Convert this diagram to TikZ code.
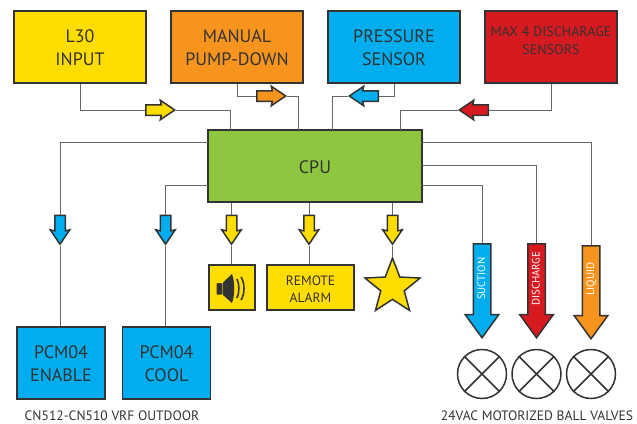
\documentclass[tikz,border=0pt]{standalone}
\usepackage{fontspec}
\setmainfont{PT Sans}
\usetikzlibrary{shapes.arrows,shapes.geometric}
\definecolor{ink}{HTML}{333333}
\definecolor{wirecol}{HTML}{666666}
\definecolor{yel}{HTML}{FFDD00}
\definecolor{ora}{HTML}{F7941E}
\definecolor{blu}{HTML}{00AEEF}
\definecolor{rd}{HTML}{D71920}
\definecolor{grn}{HTML}{8DC63F}

\begin{document}
\begin{tikzpicture}[x=1pt,y=-1pt,
					node distance=157pt,
					text=ink,
					box/.style={rectangle,draw=ink,line width=1.8pt,align=center,
						font=\fontsize{18}{23}\selectfont},
					top box/.style={box,minimum width=132pt,minimum height=72pt,text height=37.5pt},
					pcm box/.style={box,minimum width=88pt,minimum height=72pt,text height=36.5pt},
					alarm box/.style={box,minimum height=45pt,text height=29.5pt,font=\fontsize{13.5}{17}\selectfont},
					wire/.style={draw=wirecol,line width=1pt},
					small arrow/.style={single arrow,draw=ink,line width=1.5pt,minimum height=29pt,
						minimum width=18pt,single arrow head extend=4.5pt,inner sep=4.5pt,anchor=tail,
						single arrow tip angle=68,single arrow head indent=1pt},
					point left/.style={shape border rotate=180},
					point down/.style={shape border rotate=270},
					big arrow/.style={single arrow,draw=ink,line width=1.5pt,rotate=90,shape border rotate=180,
						minimum height=94pt,minimum width=32pt,single arrow head extend=8pt,inner xsep=0pt,inner ysep=3pt,
						text height=8pt,text depth=2pt,anchor=tail,
						single arrow tip angle=72,text=white,font=\fontsize{10.8}{12}\selectfont},
					valve/.style={circle,draw=ink,line width=1.5pt,minimum size=49pt,inner sep=0pt}]

  \useasboundingbox (0,0) rectangle (637,423);

  % inputs
  \node[top box,fill=yel] (l30) at (80,47) {L30\\INPUT};
  \node[top box,fill=ora] (manual) [right of=l30] {MANUAL\\PUMP-DOWN};
  \node[top box,fill=blu] (pressure) [right of=manual] {PRESSURE\\SENSOR};
  \node[box,minimum width=132pt,minimum height=72pt,fill=rd,font=\fontsize{14}{18}\selectfont,text depth=13.5pt] (discharge) [right of=pressure] {MAX 4 DISCHARAGE\\SENSORS};

  \node[box,fill=grn,minimum width=214pt,minimum height=72pt,text height=14.5pt] (cpu) at (315,166) {CPU};

  % outputs
  \node[pcm box,fill=blu] (enable) at (61,363) {PCM04\\ENABLE};
  \node[pcm box,fill=blu] (cool) at (166.5,363) {PCM04\\COOL};
  \node[box,minimum height=45pt,fill=yel,minimum width=46pt] (speaker) at (232,287.5) {};
  \node[alarm box,fill=yel,minimum width=87pt] (remote) at (310.5,287.5) {REMOTE\\ALARM};
  \node[star,star points=5,star point ratio=2.35,draw=ink,fill=yel,line width=1.5pt,minimum size=58pt,inner sep=0pt] (lamp) at (392.5,287) {};

  \node[valve] (valve1) at (482,374) {};
  \node[valve] (valve2) at (536.5,374) {};
  \node[valve] (valve3) at (591,374) {};
  \foreach \v in {valve1,valve2,valve3}
    \draw[draw=ink,line width=1.5pt] (\v.45) -- (\v.225) (\v.135) -- (\v.315);

  % arrows on the wires
  \node[small arrow,fill=yel] (l30arrow) at (145,110) {};
  \node[small arrow,fill=ora] (manualarrow) at (256,96) {};
  \node[small arrow,point left,fill=blu] (pressurearrow) at (379,96) {};
  \node[small arrow,point left,fill=rd] (dischargearrow) at (489,110) {};
  \node[small arrow,point down,fill=blu] (enablearrow) at (60,214.5) {};
  \node[small arrow,point down,fill=blu] (coolarrow) at (165.5,214.5) {};
  \node[small arrow,point down,fill=yel] (speakerarrow) at (231.5,214.5) {};
  \node[small arrow,point down,fill=yel] (remotearrow) at (309,214.5) {};
  \node[small arrow,point down,fill=yel] (lamparrow) at (392.5,214.5) {};
  \node[big arrow,fill=blu] (suctionflow) at (482,243) {\hspace*{12pt}SUCTION};
  \node[big arrow,fill=rd] (dischargeflow) at (536.5,243) {\hspace*{12pt}DISCHARGE};
  \node[big arrow,fill=ora,minimum height=93pt] (liquidflow) at (591,245) {\hspace*{14pt}LIQUID};

  \coordinate (cpuin1) at (230,130);
  \coordinate (cpuin2) at (298.5,130);
  \coordinate (cpuin3) at (332,130);
  \coordinate (cpuin4) at (400,130);
  \coordinate (cpuleft1) at (208,142);
  \coordinate (cpuleft2) at (208,185);
  \coordinate (cpuright1) at (422,142);
  \coordinate (cpuright2) at (422,165);
  \coordinate (cpuright3) at (422,185);

  \draw[wire] (l30.south) |- (l30arrow.tail);
  \draw[wire] (l30arrow.tip) -| (cpuin1);
  \draw[wire] (manual.south) |- (manualarrow.tail);
  \draw[wire] (manualarrow.tip) -| (cpuin2);
  \draw[wire] (pressure.south) |- (pressurearrow.tail);
  \draw[wire] (pressurearrow.tip) -| (cpuin3);
  \draw[wire] (discharge.south) |- (dischargearrow.tail);
  \draw[wire] (dischargearrow.tip) -| (cpuin4);

  \draw[wire] (cpuleft1) -| (enablearrow.tail);
  \draw[wire] (enablearrow.tip) -- (enablearrow.tip |- enable.north);
  \draw[wire] (cpuleft2) -| (coolarrow.tail);
  \draw[wire] (coolarrow.tip) -- (coolarrow.tip |- cool.north);
  \draw[wire] (speakerarrow.tail |- cpu.south) -- (speakerarrow.tail);
  \draw[wire] (speakerarrow.tip) -- (speakerarrow.tip |- speaker.north);
  \draw[wire] (remotearrow.tail |- cpu.south) -- (remotearrow.tail);
  \draw[wire] (remotearrow.tip) -- (remotearrow.tip |- remote.north);
  \draw[wire] (lamparrow.tail |- cpu.south) -- (lamparrow.tail);
  \draw[wire] (lamparrow.tip) -- (lamp.north);

  \draw[wire] (cpuright1) -| (liquidflow.tail);
  \draw[wire] (cpuright2) -| (dischargeflow.tail);
  \draw[wire] (cpuright3) -| (suctionflow.tail);

  % speaker glyph
  \fill[ink,rounded corners=1pt] (216.5,283) rectangle (222,294.5);
  \fill[ink] (222.5,283) -- (232,274) .. controls (235,282) and (235,295) .. (232,303) -- (222.5,294.5) -- cycle;
  \draw[ink,line width=1.6pt] (237,279) .. controls (239.5,284) and (239.5,293) .. (237,298);
  \draw[ink,line width=1.6pt] (241,277) .. controls (245,283) and (245,294) .. (241,300);

  \node[font=\fontsize{13.6}{15}\selectfont,inner sep=0pt] (pcmcaption) at (112,416) {CN512-CN510 VRF OUTDOOR};
  \node[font=\fontsize{13.6}{15}\selectfont,inner sep=0pt] (valvecaption) at (537,416) {24VAC MOTORIZED BALL VALVES};
\end{tikzpicture}
\end{document}
